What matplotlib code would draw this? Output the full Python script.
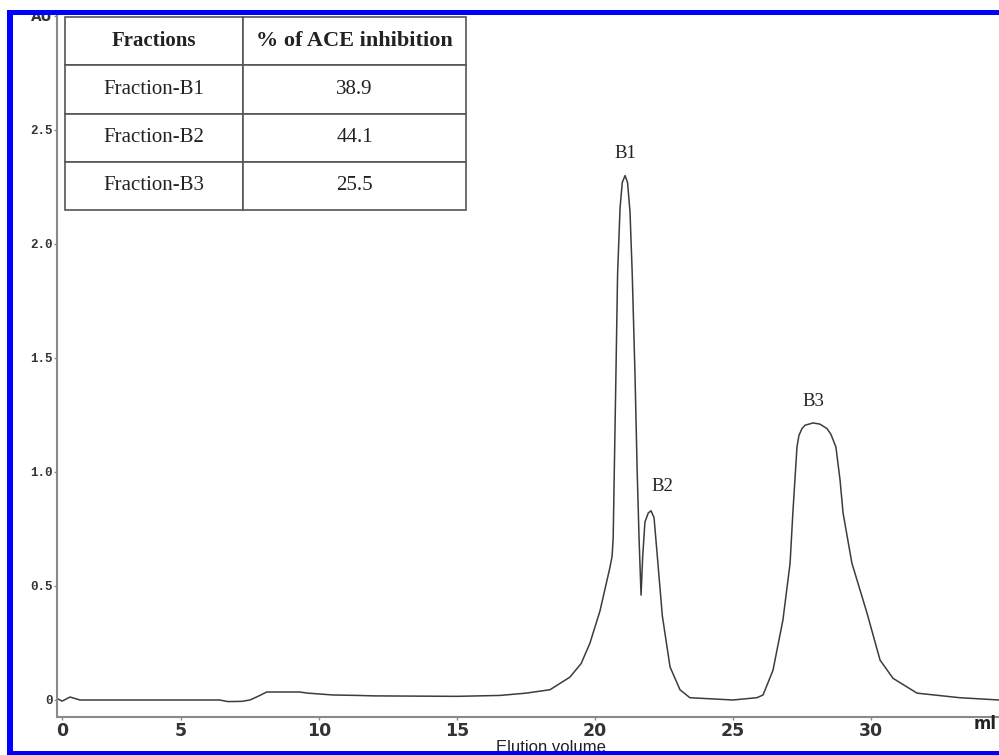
import matplotlib
matplotlib.use("Agg")
import matplotlib.pyplot as plt
from matplotlib.patches import Rectangle

# ---- data ----
elution_ml = [0.55, 0.69, 0.98, 1.34, 3.0, 5.0, 6.4, 6.7, 7.2, 7.5, 7.86, 8.1, 9.3,
              9.6, 10.5, 11.4, 12.0, 15.0, 16.56, 17.5, 18.37, 19.09, 19.5, 19.82,
              20.18, 20.54, 20.62, 20.66, 20.70, 20.76, 20.82, 20.91, 20.99, 21.09,
              21.18, 21.27, 21.35, 21.45, 21.53, 21.60, 21.67, 21.73, 21.81, 21.93,
              22.03, 22.14, 22.26, 22.44, 22.72, 23.08, 23.44, 25.0, 25.87, 26.09,
              26.45, 26.81, 27.07, 27.17, 27.32, 27.39, 27.50, 27.61, 27.90, 28.15,
              28.41, 28.55, 28.73, 28.88, 28.99, 29.31, 29.86, 30.33, 30.80, 31.67,
              33.22, 34.64]
absorbance_au = [0.004, -0.005, 0.013, 0.0, 0.0, 0.0, 0.0, -0.007, -0.006, 0.0, 0.02,
                 0.035, 0.035, 0.03, 0.022, 0.02, 0.018, 0.016, 0.02, 0.03, 0.045,
                 0.10, 0.16, 0.25, 0.39, 0.58, 0.63, 0.71, 1.0, 1.43, 1.87, 2.16,
                 2.27, 2.30, 2.27, 2.14, 1.87, 1.43, 1.0, 0.70, 0.46, 0.63, 0.78,
                 0.82, 0.83, 0.80, 0.63, 0.37, 0.145, 0.045, 0.01, 0.0, 0.01, 0.022,
                 0.13, 0.35, 0.60, 0.82, 1.11, 1.16, 1.19, 1.205, 1.215, 1.21, 1.19,
                 1.165, 1.11, 0.965, 0.82, 0.60, 0.38, 0.175, 0.095, 0.03, 0.01, 0.0]

peak_labels = ["B1", "B2", "B3"]
peak_label_ml = [21.12, 22.43, 27.9]
peak_label_au = [2.36, 0.90, 1.27]

x_ticks = [0.7, 5, 10, 15, 20, 25, 30]
x_tick_labels = ["0", "5", "10", "15", "20", "25", "30"]
y_ticks = [0, 0.5, 1.0, 1.5, 2.0, 2.5, 3.0]
y_tick_labels = ["0", "0.5", "1.0", "1.5", "2.0", "2.5", "AU"]

table_header = ["Fractions", "% of ACE inhibition"]
table_fractions = ["Fraction-B1", "Fraction-B2", "Fraction-B3"]
table_inhibition = ["38.9", "44.1", "25.5"]

# ---- figure ----
W, H = 999, 755
fig = plt.figure(figsize=(W / 100, H / 100), dpi=100)
fig.patch.set_facecolor("white")

left_px, right_px, top_px, bottom_px = 57, 999, 13, 717
ax = fig.add_axes([left_px / W, 1 - bottom_px / H,
                   (right_px - left_px) / W, (bottom_px - top_px) / H])
ax.set_xlim(0.507, 34.64)
ax.set_ylim(-0.0746, 3.013)

ax.plot(elution_ml, absorbance_au, color="#3c3c3c", lw=1.1, solid_joinstyle="round")

for lab, xm, ya in zip(peak_labels, peak_label_ml, peak_label_au):
    ax.text(xm, ya, lab, ha="center", va="bottom", fontsize=13.5,
            family="Liberation Serif", color="#222222")

for s in ["top", "right"]:
    ax.spines[s].set_visible(False)
for s in ["left", "bottom"]:
    ax.spines[s].set_color("#8a8a8a")
    ax.spines[s].set_linewidth(1.5)

ax.set_xticks(x_ticks)
xl = ax.set_xticklabels(x_tick_labels)
for t in xl:
    t.set_fontfamily("DejaVu Sans")
    t.set_fontweight("bold")
    t.set_fontsize(12.5)
    t.set_color("#333333")
ax.set_yticks(y_ticks)
yl = ax.set_yticklabels(y_tick_labels)
for t in yl:
    t.set_fontfamily("Liberation Mono")
    t.set_fontweight("bold")
    t.set_fontsize(9)
    t.set_color("#333333")
yl[-1].set_fontfamily("DejaVu Sans")
yl[-1].set_fontsize(10)
ax.tick_params(axis="x", length=2, width=1, color="#8a8a8a", pad=1.5)
ax.tick_params(axis="y", length=2, width=1, color="#8a8a8a", pad=1)

# table
tab = ax.table(cellText=[[f, v] for f, v in zip(table_fractions, table_inhibition)],
               colLabels=table_header, cellLoc="center",
               colWidths=[0.444, 0.556],
               bbox=[(65 - left_px) / (right_px - left_px),
                     (bottom_px - 210) / (bottom_px - top_px),
                     (466 - 65) / (right_px - left_px),
                     (210 - 17) / (bottom_px - top_px)])
tab.auto_set_font_size(False)
for (r, c), cell in tab.get_celld().items():
    cell.set_edgecolor("#555555")
    cell.set_linewidth(1.2)
    cell.set_facecolor("white")
    txt = cell.get_text()
    txt.set_fontfamily("Liberation Serif")
    txt.set_fontsize(15)
    txt.set_color("#222222")
    if r == 0:
        txt.set_fontweight("bold")
        txt.set_fontsize(16)
        if c == 0:
            txt.set_fontsize(15)

# axis labels
fig.text(985 / W, 1 - 724 / H, "ml", ha="center", va="center", fontsize=12,
         fontweight="bold", family="DejaVu Sans", color="#222222")
fig.text(551 / W, 0.0, "Elution volume", ha="center", va="bottom",
         fontsize=12, family="Liberation Sans", color="#222222")

# blue frame
blue = "#0000ff"
fig.add_artist(Rectangle((7 / W, 0), 6 / W, 1 - 10 / H, transform=fig.transFigure,
                         facecolor=blue, edgecolor="none", zorder=10))
fig.add_artist(Rectangle((7 / W, 1 - 15 / H), 1, 5 / H, transform=fig.transFigure,
                         facecolor=blue, edgecolor="none", zorder=10))
fig.add_artist(Rectangle((7 / W, 0), 1, 4 / H, transform=fig.transFigure,
                         facecolor=blue, edgecolor="none", zorder=10))

fig.savefig("out.png", dpi=100)
